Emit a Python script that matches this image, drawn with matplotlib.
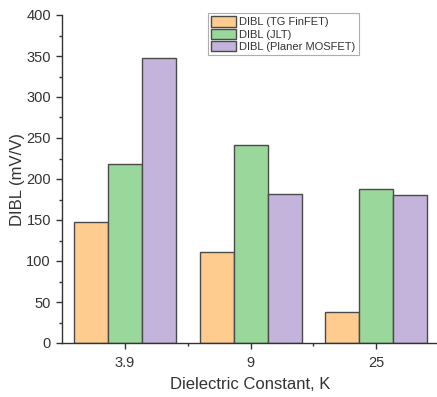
import matplotlib
matplotlib.use("Agg")
import matplotlib.pyplot as plt
import numpy as np
from matplotlib.ticker import MultipleLocator, FixedLocator

categories = ["3.9", "9", "25"]
tg_finfet = [148, 111, 38]
jlt = [218, 241, 188]
planer = [348, 182, 181]
series_names = ["DIBL (TG FinFET)", "DIBL (JLT)", "DIBL (Planer MOSFET)"]
colors = ["#FFCC90", "#9AD79B", "#C4B3DA"]

plt.rcParams['font.family'] = ['Liberation Sans', 'DejaVu Sans']

fig = plt.figure(figsize=(4.37, 3.97), dpi=100)
ax = fig.add_axes([62/437, 54/397, (437-62)/437 + 0.005, (343-15)/397])

x = np.arange(1, len(categories) + 1)
w = 0.27
for i, (vals, name, c) in enumerate(zip([tg_finfet, jlt, planer], series_names, colors)):
    ax.bar(x + (i - 1) * w, vals, width=w, color=c, edgecolor="#4a4a4a",
           linewidth=1.0, label=name)

ax.set_xlim(0.5, 3.5)
ax.set_ylim(0, 400)
ax.set_xticks(x)
ax.set_xticklabels(categories)
ax.xaxis.set_minor_locator(FixedLocator([1.5, 2.5]))
ax.yaxis.set_major_locator(MultipleLocator(50))
ax.yaxis.set_minor_locator(MultipleLocator(25))

for s in ["top", "right"]:
    ax.spines[s].set_visible(False)
for s in ["left", "bottom"]:
    ax.spines[s].set_color("#333333")
    ax.spines[s].set_linewidth(1.0)

ax.tick_params(axis="both", which="major", direction="out", length=4.5, width=1,
               colors="#333333", labelsize=10.5, labelcolor="#333333")
ax.tick_params(axis="both", which="minor", direction="out", length=2.5, width=1,
               colors="#333333")
ax.tick_params(axis="x", pad=5)

ax.set_ylabel("DIBL (mV/V)", fontsize=12, color="#333333", labelpad=1)
ax.set_xlabel("Dielectric Constant, K", fontsize=12, color="#333333", labelpad=5)

leg = ax.legend(loc="upper left", fontsize=8, frameon=True,
                fancybox=False, edgecolor="#999999", handlelength=2.2,
                handleheight=1.1, handletextpad=0.3, borderpad=0.3,
                labelspacing=0.1, borderaxespad=0)
leg.set_bbox_to_anchor((208/437, 1 - 13/397), transform=fig.transFigure)
leg.get_frame().set_linewidth(0.8)
for t in leg.get_texts():
    t.set_color("#333333")

fig.savefig("out.png", dpi=100)
